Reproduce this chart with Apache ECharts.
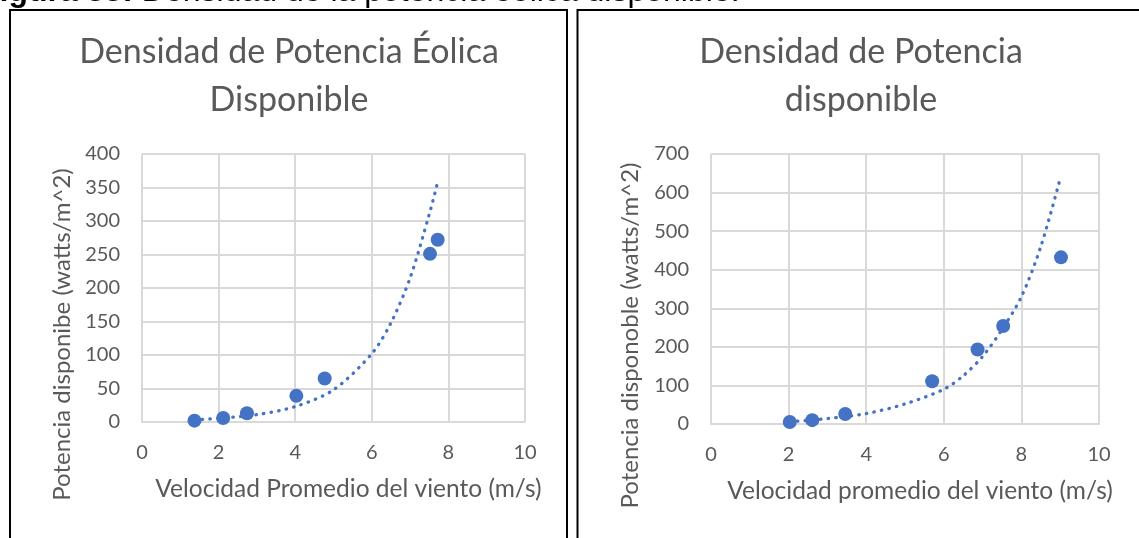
<!DOCTYPE html>
<html>
<head>
<meta charset="utf-8">
<script src="https://cdn.jsdelivr.net/npm/echarts@6/dist/echarts.min.js"></script>
<style>
html,body{margin:0;padding:0;background:#fff;}
#c{width:1139px;height:538px;}
</style>
</head>
<body>
<div id="c"></div>
<script>
// ---- Data ----
const captionBold = 'Figura 33:';
const captionText = ' Densidad de la potencia eólica disponible.';

const title1 = 'Densidad de Potencia Éolica\nDisponible';
const title2 = 'Densidad de Potencia\ndisponible';
const xName1 = 'Velocidad Promedio del viento (m/s)';
const xName2 = 'Velocidad promedio del viento (m/s)';
const yName1 = 'Potencia disponibe (watts/m^2)';
const yName2 = 'Potencia disponoble (watts/m^2)';

// Chart 1 (left)
const vel1 = [1.37, 2.12, 2.74, 4.03, 4.77, 7.52, 7.72];
const pot1 = [2, 6, 13, 39, 65, 251, 272];
const trendVel1 = [1.37, 2, 3, 4, 5, 6, 6.5, 7, 7.5, 7.72];
const trendPot1 = [3, 5.5, 11, 23, 48, 102, 148, 215, 310, 358];

// Chart 2 (right)
const vel2 = [2.03, 2.61, 3.46, 5.70, 6.87, 7.53, 9.02];
const pot2 = [5, 10, 26, 111, 193, 254, 432];
const trendVel2 = [2.03, 3, 4, 5, 6, 6.5, 7, 7.5, 8, 8.5, 9.01];
const trendPot2 = [6, 14, 27, 52, 90, 125, 175, 245, 330, 460, 640];

// ---- Styling ----
const FONT = 'Lato';
const GRAY = '#595959';
const GRID = '#d9d9d9';
const BLUE = '#4472c4';

const zip = (a, b) => a.map((v, i) => [v, b[i]]);

function xAxisFor(idx, name) {
  return {
    type: 'value', gridIndex: idx, min: 0, max: 10, interval: 2,
    name: name, nameLocation: 'middle', nameGap: 55,
    nameTextStyle: { fontFamily: FONT, fontSize: 24.5, color: GRAY, padding: [0, 0, 0, 30] },
    axisLine: { show: true, lineStyle: { color: GRID, width: 2 } },
    axisTick: { show: false },
    axisLabel: { fontFamily: FONT, fontSize: 20, color: GRAY, margin: 21 },
    splitLine: { show: true, lineStyle: { color: GRID, width: 2 } }
  };
}
function yAxisFor(idx, name, max, interval, gap) {
  return {
    type: 'value', gridIndex: idx, min: 0, max: max, interval: interval,
    name: name, nameLocation: 'middle', nameGap: gap,
    nameTextStyle: { fontFamily: FONT, fontSize: 24, color: GRAY, padding: [0, 93, 0, 0] },
    axisLine: { show: false },
    axisTick: { show: false },
    axisLabel: { fontFamily: FONT, fontSize: 20, color: GRAY, margin: 22 },
    splitLine: { show: true, lineStyle: { color: GRID, width: 2 } }
  };
}

const chart = echarts.init(document.getElementById('c'), null, { renderer: 'canvas' });
chart.setOption({
  animation: false,
  backgroundColor: '#fff',
  title: [
    { text: title1, left: 289, top: 28, textAlign: 'center', padding: 0,
      textStyle: { fontFamily: FONT, fontSize: 34, fontWeight: 'normal', color: GRAY, lineHeight: 48 } },
    { text: title2, left: 861, top: 28, textAlign: 'center', padding: 0,
      textStyle: { fontFamily: FONT, fontSize: 34, fontWeight: 'normal', color: GRAY, lineHeight: 48 } }
  ],
  grid: [
    { left: 142, top: 154, width: 383, height: 268 },
    { left: 711, top: 154, width: 388, height: 270 }
  ],
  xAxis: [xAxisFor(0, xName1), xAxisFor(1, xName2)],
  yAxis: [yAxisFor(0, yName1, 400, 50, 68), yAxisFor(1, yName2, 700, 100, 69)],
  series: [
    { type: 'line', xAxisIndex: 0, yAxisIndex: 0, data: zip(trendVel1, trendPot1),
      smooth: 0.3, showSymbol: false, symbol: 'none',
      lineStyle: { color: BLUE, width: 3.3, type: [0.5, 7.2], cap: 'round' }, z: 2 },
    { type: 'scatter', xAxisIndex: 0, yAxisIndex: 0, data: zip(vel1, pot1),
      symbolSize: 14, itemStyle: { color: BLUE, opacity: 1 }, z: 3 },
    { type: 'line', xAxisIndex: 1, yAxisIndex: 1, data: zip(trendVel2, trendPot2),
      smooth: 0.3, showSymbol: false, symbol: 'none',
      lineStyle: { color: BLUE, width: 3.3, type: [0.5, 7.2], cap: 'round' }, z: 2 },
    { type: 'scatter', xAxisIndex: 1, yAxisIndex: 1, data: zip(vel2, pot2),
      symbolSize: 14, itemStyle: { color: BLUE, opacity: 1 }, z: 3 }
  ],
  graphic: [
    { type: 'rect', shape: { x: 10, y: 10, width: 557, height: 560 },
      style: { fill: 'none', stroke: '#000', lineWidth: 2 }, silent: true, z: 0 },
    { type: 'rect', shape: { x: 577.5, y: 10, width: 600, height: 560 },
      style: { fill: 'none', stroke: '#000', lineWidth: 2 }, silent: true, z: 0 },
    { type: 'text', x: -20, y: -8, silent: true, z: 10,
      style: {
        text: '{b|' + captionBold + '}{r|' + captionText + '}',
        verticalAlign: 'middle', align: 'left',
        rich: {
          b: { fontFamily: 'Liberation Sans', fontWeight: 'bold', fontSize: 32, fill: '#000', color: '#000' },
          r: { fontFamily: 'Liberation Sans', fontWeight: 'normal', fontSize: 32, fill: '#000', color: '#000' }
        }
      } }
  ]
});
</script>
</body>
</html>
